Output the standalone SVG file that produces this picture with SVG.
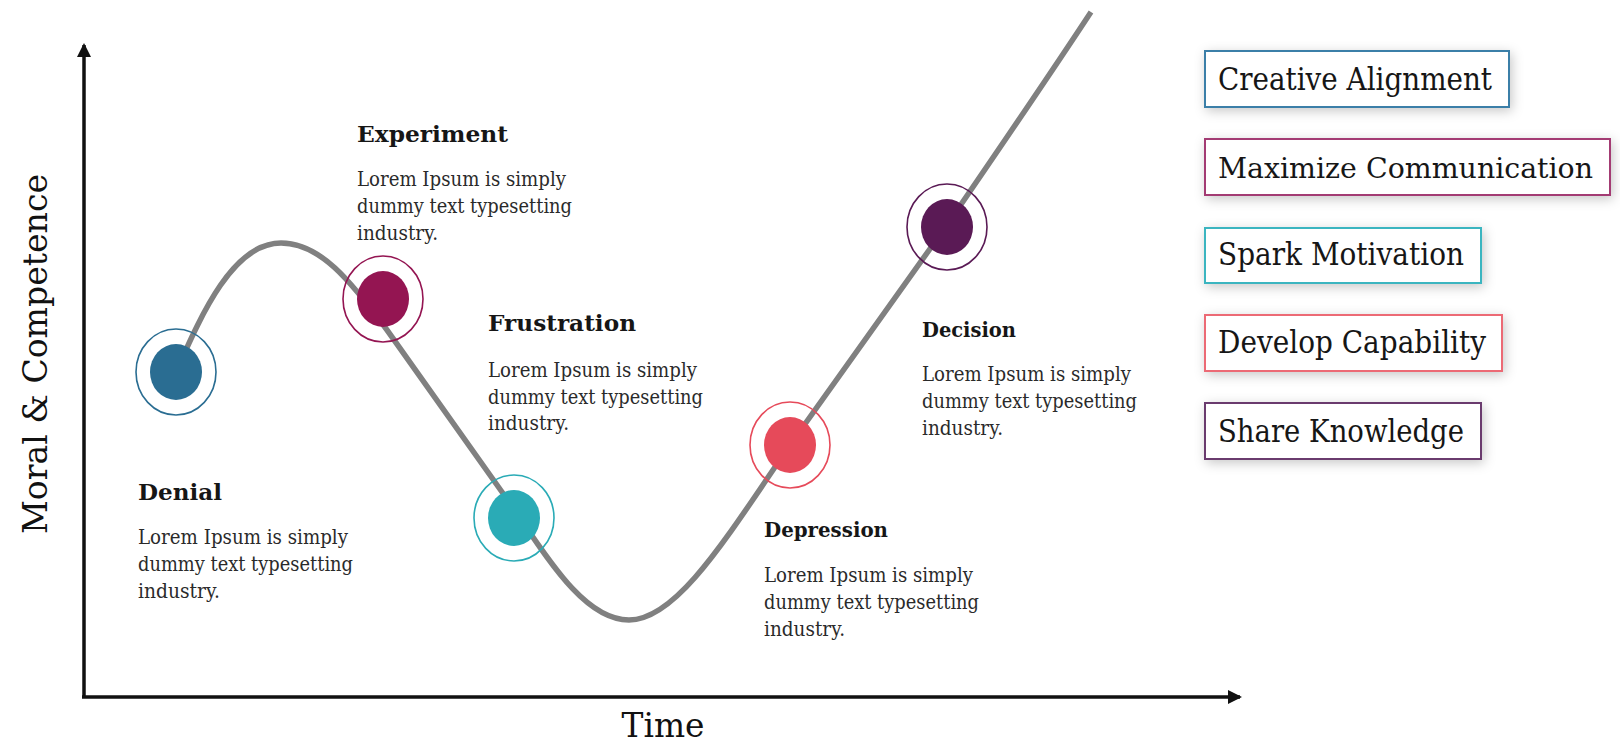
<svg xmlns="http://www.w3.org/2000/svg" width="1620" height="743" viewBox="0 0 1620 743">
<defs>
<style>
.t{font-family:"DejaVu Serif","Liberation Serif",serif;fill:#161616}
.h{font-weight:bold;font-size:22.5px}
.hs{font-weight:bold;font-size:20px}
.b{font-size:20px;fill:#2a2a2a}
.bx{font-size:31px}
.ax{font-size:34px;fill:#111}
.ring{fill:none;stroke-width:1.6}
.box{fill:#fff;stroke-width:2;filter:url(#sh)}
</style>
<marker id="ar" markerWidth="14" markerHeight="14" refX="12" refY="7" orient="auto" markerUnits="userSpaceOnUse"><path d="M0,0 L14,7 L0,14 z" fill="#111"/></marker>
<filter id="sh" x="-20%" y="-50%" width="140%" height="200%"><feDropShadow dx="2" dy="3" stdDeviation="6" flood-color="#000" flood-opacity="0.22"/></filter>
</defs>
<rect width="1620" height="743" fill="#fff"/>

<g id="connectors">
<line x1="84" y1="697" x2="84" y2="45" stroke="#111" stroke-width="3.5" marker-end="url(#ar)"/>
<line x1="82" y1="697" x2="1240" y2="697" stroke="#111" stroke-width="3.5" marker-end="url(#ar)"/>
<path d="M176,372 C200,318 232,243 281,243 C320,243 350,280 387,330 L502,492 C540,545 580,620 629,620 C677,620 727,537 790,445 C850,362 900,292 947,225 C995,155 1045,82 1091,12" fill="none" stroke="#808080" stroke-width="5.5"/>
</g>

<g id="axis-labels">
<text class="t ax" transform="translate(47,354) rotate(-90)" text-anchor="middle" textLength="360" lengthAdjust="spacingAndGlyphs">Moral &amp; Competence</text>
<text class="t ax" x="663" y="737" text-anchor="middle" textLength="83" lengthAdjust="spacingAndGlyphs">Time</text>
</g>

<g id="denial">
<ellipse class="ring" cx="176" cy="372" rx="40" ry="43" stroke="#2a6d92"/>
<ellipse cx="176" cy="372" rx="26" ry="28" fill="#2a6d92"/>
<text class="t h" x="138" y="500" textLength="84" lengthAdjust="spacingAndGlyphs">Denial</text>
<text class="t b" x="138" y="544" textLength="210" lengthAdjust="spacingAndGlyphs">Lorem Ipsum is simply</text>
<text class="t b" x="138" y="571" textLength="215" lengthAdjust="spacingAndGlyphs">dummy text typesetting</text>
<text class="t b" x="138" y="598" textLength="82" lengthAdjust="spacingAndGlyphs">industry.</text>
</g>

<g id="experiment">
<ellipse class="ring" cx="383" cy="299" rx="40" ry="43" stroke="#941552"/>
<ellipse cx="383" cy="299" rx="26" ry="28" fill="#941552"/>
<text class="t h" x="357" y="142" textLength="151" lengthAdjust="spacingAndGlyphs">Experiment</text>
<text class="t b" x="357" y="186" textLength="209" lengthAdjust="spacingAndGlyphs">Lorem Ipsum is simply</text>
<text class="t b" x="357" y="213" textLength="215" lengthAdjust="spacingAndGlyphs">dummy text typesetting</text>
<text class="t b" x="357" y="240" textLength="81" lengthAdjust="spacingAndGlyphs">industry.</text>
</g>

<g id="frustration">
<ellipse class="ring" cx="514" cy="518" rx="40" ry="43" stroke="#2aabb6"/>
<ellipse cx="514" cy="518" rx="26" ry="28" fill="#2aabb6"/>
<text class="t h" x="488" y="331" textLength="148" lengthAdjust="spacingAndGlyphs">Frustration</text>
<text class="t b" x="488" y="377" textLength="209" lengthAdjust="spacingAndGlyphs">Lorem Ipsum is simply</text>
<text class="t b" x="488" y="403.5" textLength="215" lengthAdjust="spacingAndGlyphs">dummy text typesetting</text>
<text class="t b" x="488" y="430" textLength="81" lengthAdjust="spacingAndGlyphs">industry.</text>
</g>

<g id="depression">
<ellipse class="ring" cx="790" cy="445" rx="40" ry="43" stroke="#e64a5a"/>
<ellipse cx="790" cy="445" rx="26" ry="28" fill="#e64a5a"/>
<text class="t hs" x="764" y="537" textLength="124" lengthAdjust="spacingAndGlyphs">Depression</text>
<text class="t b" x="764" y="582" textLength="209" lengthAdjust="spacingAndGlyphs">Lorem Ipsum is simply</text>
<text class="t b" x="764" y="609" textLength="215" lengthAdjust="spacingAndGlyphs">dummy text typesetting</text>
<text class="t b" x="764" y="636" textLength="81" lengthAdjust="spacingAndGlyphs">industry.</text>
</g>

<g id="decision">
<ellipse class="ring" cx="947" cy="227" rx="40" ry="43" stroke="#5a1a55"/>
<ellipse cx="947" cy="227" rx="26" ry="28" fill="#5a1a55"/>
<text class="t hs" x="922" y="337" textLength="94" lengthAdjust="spacingAndGlyphs">Decision</text>
<text class="t b" x="922" y="381" textLength="209" lengthAdjust="spacingAndGlyphs">Lorem Ipsum is simply</text>
<text class="t b" x="922" y="408" textLength="215" lengthAdjust="spacingAndGlyphs">dummy text typesetting</text>
<text class="t b" x="922" y="435" textLength="81" lengthAdjust="spacingAndGlyphs">industry.</text>
</g>

<g id="box-creative-alignment">
<rect class="box" x="1205" y="51" width="304" height="56" stroke="#3a7fa8"/>
<text class="t bx" x="1218" y="90" textLength="274" lengthAdjust="spacingAndGlyphs">Creative Alignment</text>
</g>
<g id="box-maximize-communication">
<rect class="box" x="1205" y="139" width="405" height="56" stroke="#a33a73"/>
<text class="t bx" x="1218" y="178" style="font-size:28.5px" textLength="375" lengthAdjust="spacingAndGlyphs">Maximize Communication</text>
</g>
<g id="box-spark-motivation">
<rect class="box" x="1205" y="228" width="276" height="55" stroke="#3ab5c0"/>
<text class="t bx" x="1218" y="265" textLength="246" lengthAdjust="spacingAndGlyphs">Spark Motivation</text>
</g>
<g id="box-develop-capability">
<rect class="box" x="1205" y="315" width="297" height="56" stroke="#ec6a75"/>
<text class="t bx" x="1218" y="353" textLength="268" lengthAdjust="spacingAndGlyphs">Develop Capability</text>
</g>
<g id="box-share-knowledge">
<rect class="box" x="1205" y="403" width="276" height="56" stroke="#6a3a6e"/>
<text class="t bx" x="1218" y="442" textLength="246" lengthAdjust="spacingAndGlyphs">Share Knowledge</text>
</g>
</svg>
